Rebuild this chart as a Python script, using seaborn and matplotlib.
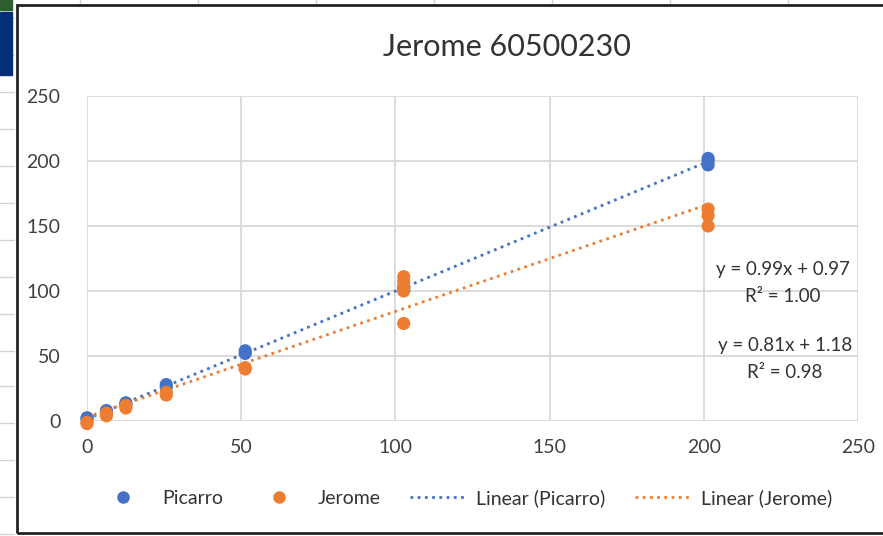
import numpy as np
import pandas as pd
import seaborn as sns
import matplotlib.pyplot as plt
from matplotlib.patches import Rectangle
from matplotlib.lines import Line2D

# data
picarro_x = [0, 0, 6.3, 6.3, 12.6, 12.6, 25.7, 25.7, 51.3, 51.3, 102.7, 102.7, 201.4, 201.4, 201.4]
picarro_y = [1.5, 2.5, 7, 8, 13, 14, 26, 28, 52, 54, 101, 103, 197, 200, 202]
jerome_x = [0, 0, 6.3, 6.3, 12.6, 12.6, 25.7, 25.7, 51.3, 51.3, 102.7, 102.7, 102.7, 102.7, 102.7, 201.4, 201.4, 201.4]
jerome_y = [-2, -1, 4, 6, 10, 12, 20, 22, 40, 41, 75, 100, 103, 107, 111, 150, 158, 163]
eq_picarro = ["y = 0.99x + 0.97", "R² = 1.00"]
eq_jerome = ["y = 0.81x + 1.18", "R² = 0.98"]

blue = "#4472C4"
orange = "#ED7D31"

sns.set_style("white")
plt.rcParams['font.family'] = ['Lato', 'DejaVu Sans']

df_p = pd.DataFrame({"x": picarro_x, "y": picarro_y})
df_j = pd.DataFrame({"x": jerome_x, "y": jerome_y})

fig = plt.figure(figsize=(8.83, 5.36), dpi=100)

# spreadsheet background bits
for xv in [80, 198, 316, 434, 552, 670, 788]:
    fig.add_artist(Line2D([xv / 883, xv / 883], [1, 1 - 5 / 536], color="#D4D4D4", lw=1, zorder=0))
for yv in [18, 55, 92, 129, 166, 203, 240, 277, 314, 351, 386, 423, 460, 497, 534]:
    fig.add_artist(Line2D([0, 14 / 883], [1 - yv / 536, 1 - yv / 536], color="#D4D4D4", lw=1, zorder=0))
fig.add_artist(Rectangle((0, 1 - 10 / 536), 12 / 883, 10 / 536, color="#2E5E2E",
                         transform=fig.transFigure, zorder=2))
fig.add_artist(Rectangle((0, 1 - 75 / 536), 12 / 883, 63 / 536, color="#042F77",
                         transform=fig.transFigure, zorder=2))
fig.add_artist(Rectangle((17 / 883, 3 / 536), 1.2, 1 - 8 / 536, fill=False, edgecolor="#222222",
                         lw=2, transform=fig.transFigure, zorder=2))

ax = fig.add_axes([87 / 883, 1 - 421 / 536, 771 / 883, 325 / 536])

dots = (0, (1, 1.6))
sns.regplot(data=df_p, x="x", y="y", ax=ax, scatter=False, ci=None, truncate=True,
            line_kws=dict(color=blue, lw=2, linestyle=dots))
sns.regplot(data=df_j, x="x", y="y", ax=ax, scatter=False, ci=None, truncate=True,
            line_kws=dict(color=orange, lw=2, linestyle=dots))
sns.scatterplot(data=df_p, x="x", y="y", ax=ax, color=blue, s=90, edgecolor="none", clip_on=False, zorder=3)
sns.scatterplot(data=df_j, x="x", y="y", ax=ax, color=orange, s=90, edgecolor="none", clip_on=False, zorder=4)

ax.set_xlim(0, 250)
ax.set_ylim(0, 250)
ax.set_xticks(range(0, 251, 50))
ax.set_yticks(range(0, 251, 50))
ax.grid(True, color="#D9D9D9", lw=1.3)
ax.set_axisbelow(True)
for s in ax.spines.values():
    s.set_visible(False)
ax.tick_params(length=0, labelsize=14, colors="#404040")
ax.tick_params(axis="y", pad=19)
ax.tick_params(axis="x", pad=13)
ax.set_xlabel("")
ax.set_ylabel("")

fig.text(507 / 883, 1 - 47 / 536, "Jerome 60500230", ha="center", va="center", fontsize=22, color="#333333")

for txt, yy in [(eq_picarro[0], 270), (eq_picarro[1], 297)]:
    fig.text(783 / 883, 1 - yy / 536, txt, ha="center", va="center", fontsize=13.5, color="#333333")
for txt, yy in [(eq_jerome[0], 346), (eq_jerome[1], 373)]:
    fig.text(785 / 883, 1 - yy / 536, txt, ha="center", va="center", fontsize=13.5, color="#333333")

handles = [
    Line2D([], [], marker="o", color=blue, linestyle="none", markersize=8),
    Line2D([], [], marker="o", color=orange, linestyle="none", markersize=8),
    Line2D([], [], color=blue, lw=2, linestyle=dots),
    Line2D([], [], color=orange, lw=2, linestyle=dots),
]
labels = ["Picarro", "Jerome", "Linear (Picarro)", "Linear (Jerome)"]
fig.legend(handles, labels, loc="center", bbox_to_anchor=(464 / 883, 1 - 498 / 536), ncol=4,
           frameon=False, fontsize=14, handlelength=2.8, columnspacing=1.5, handletextpad=0.6,
           labelcolor="#333333")

plt.savefig("out.png", dpi=100)
